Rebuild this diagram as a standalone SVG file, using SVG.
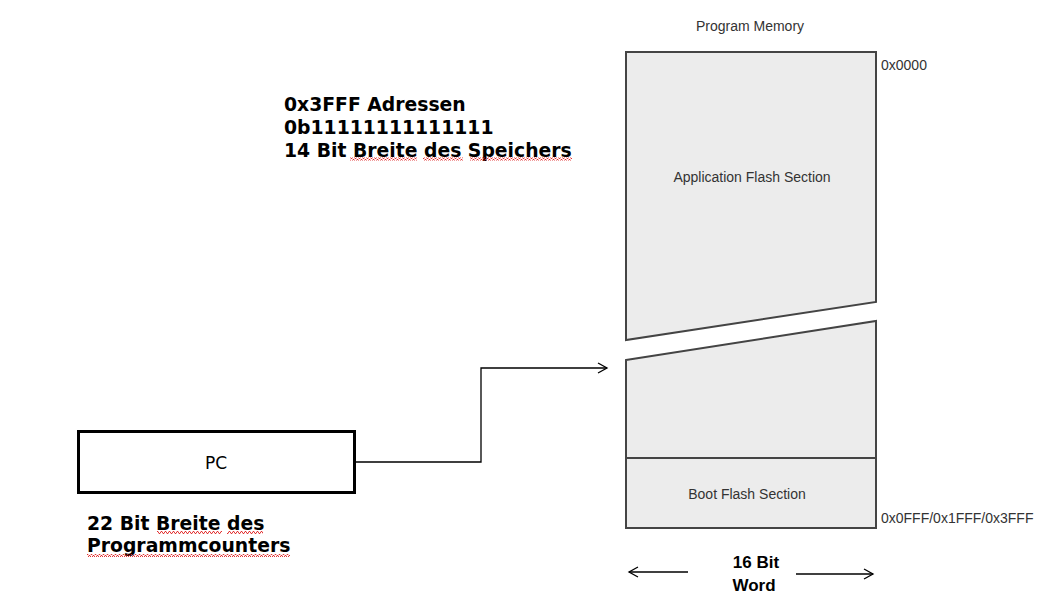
<svg xmlns="http://www.w3.org/2000/svg" width="1046" height="603" viewBox="0 0 1046 603">
<style>
.mem{fill:#ececec;stroke:#444;stroke-width:2;stroke-linejoin:miter}
.sm{font-family:"Liberation Sans",Arial,sans-serif;font-size:14px;fill:#333}
.bold{font-family:"DejaVu Sans",sans-serif;font-weight:bold;font-size:18.8px;fill:#000}
.wb{font-family:"Liberation Sans",Arial,sans-serif;font-weight:bold;font-size:17px;fill:#000}
.line{fill:none;stroke:#000;stroke-width:1.3}
.wave{fill:url(#wv)}
</style>
<defs>
<marker id="ah" markerWidth="12" markerHeight="12" refX="10" refY="6" orient="auto" markerUnits="userSpaceOnUse">
<path d="M1,1 L10,6 L1,11" fill="none" stroke="#000" stroke-width="1.3"/>
</marker>
<pattern id="wv" width="4" height="3" patternUnits="userSpaceOnUse">
<path d="M0,2.5 L1,0.5 L2,0.5 L3,2.5 L4,2.5" fill="none" stroke="#e02020" stroke-width="0.9"/>
</pattern>
</defs>
<g id="memory">
<text class="sm" x="750" y="31" text-anchor="middle">Program Memory</text>
<polygon id="app-flash" class="mem" points="626,52 876,52 876,302 626,340"/>
<text class="sm" x="752" y="182" text-anchor="middle">Application Flash Section</text>
<polygon id="lower" class="mem" points="626,360 876,321 876,528 626,528"/>
<line x1="626" y1="458" x2="876" y2="458" stroke="#444" stroke-width="2"/>
<text class="sm" x="747" y="499" text-anchor="middle">Boot Flash Section</text>
<text class="sm" x="881" y="70">0x0000</text>
<text class="sm" x="881" y="523">0x0FFF/0x1FFF/0x3FFF</text>
</g>
<g id="notes">
<text class="bold" x="284" y="111">0x3FFF Adressen</text>
<text class="bold" x="284" y="134">0b11111111111111</text>
<text class="bold" x="284" y="157">14 Bit Breite des Speichers</text>
<rect class="wave" x="350" y="157.5" width="67" height="3"/>
<rect class="wave" x="423" y="157.5" width="40" height="3"/>
<rect class="wave" x="470" y="157.5" width="102" height="3"/>
</g>
<g id="pc">
<rect x="78.5" y="431.5" width="276" height="61" fill="#fff" stroke="#000" stroke-width="3"/>
<text x="216" y="469" text-anchor="middle" font-family="DejaVu Sans,sans-serif" font-size="17">PC</text>
<text class="bold" x="87" y="530">22 Bit Breite des</text>
<text class="bold" x="87" y="552">Programmcounters</text>
<rect class="wave" x="157" y="531" width="65" height="3"/>
<rect class="wave" x="227" y="531" width="36" height="3"/>
<rect class="wave" x="87" y="554" width="203" height="3"/>
</g>
<g id="connectors">
<polyline class="line" points="356,462 481,462 481,368 607,368" marker-end="url(#ah)"/>
<line class="line" x1="688" y1="572" x2="629" y2="572" marker-end="url(#ah)"/>
<line class="line" x1="796" y1="574" x2="873" y2="574" marker-end="url(#ah)"/>
</g>
<g id="word">
<text class="wb" x="756" y="568" text-anchor="middle">16 Bit</text>
<text class="wb" x="754" y="591" text-anchor="middle">Word</text>
</g>
</svg>
